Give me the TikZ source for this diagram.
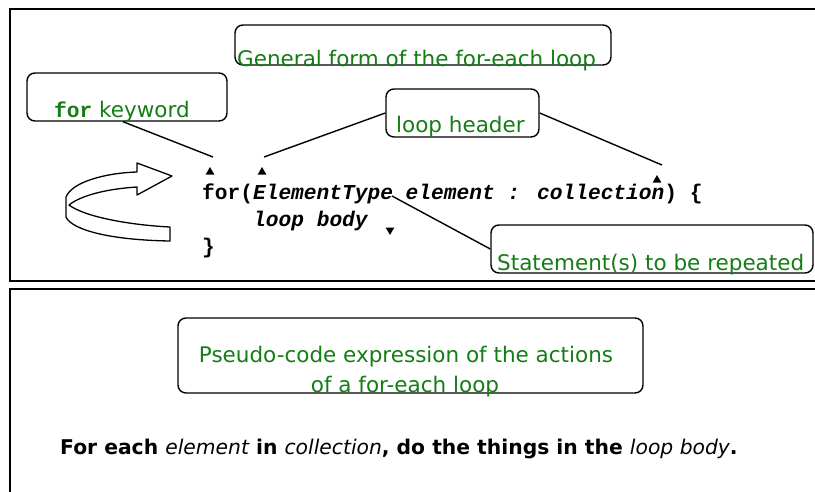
\documentclass[tikz,border=0pt]{standalone}
\usepackage{fontspec}
\setmainfont{DejaVu Sans}
\newfontfamily\codefont{Liberation Mono}
\usetikzlibrary{shapes.geometric,calc}
\definecolor{lblgreen}{RGB}{20,125,20}
\begin{document}
\begin{tikzpicture}[x=1pt,y=-1pt,
  frame/.style={draw=black,line width=2pt},
  gbox/.style={draw=black,line width=1.4pt,rounded corners=8pt,inner sep=0pt},
  lbl/.style={text=lblgreen,font=\fontsize{21.5}{26}\selectfont,inner sep=0pt,anchor=base west},
  code/.style={font=\codefont\fontsize{21.2}{27}\selectfont\bfseries,inner sep=0pt,anchor=base west},
  tri/.style={regular polygon,regular polygon sides=3,fill=black,inner sep=0pt,minimum size=10pt},
  conn/.style={draw=black,line width=1.4pt},
  ribbon/.style={draw=black,line width=1.3pt,fill=white,line join=round}]
\useasboundingbox (0,0) rectangle (815,491);
\clip (0,0) rectangle (815,491);
% frames
\draw[frame] (830,9) -- (10,9) -- (10,281) -- (830,281);
\draw[frame] (830,289) -- (10,289) -- (10,510);
% boxes
\node[gbox,minimum width=376pt,minimum height=40pt] (genbox) at (423,45) {};
\node[gbox,minimum width=200pt,minimum height=48pt] (forbox) at (127,97) {};
\node[gbox,minimum width=153pt,minimum height=48pt] (hdrbox) at (462.5,113) {};
\node[gbox,minimum width=322pt,minimum height=48pt] (stmtbox) at (652,249) {};
\node[gbox,minimum width=465pt,minimum height=75pt] (psbox) at (410.5,355.5) {};
% box labels
\node[lbl] (gentxt) at (237,66) {General form of the for-each loop};
\node[lbl] (fortxt) at (54,117) {{\codefont\fontsize{21.2}{26}\selectfont\bfseries for} keyword};
\node[lbl] (hdrtxt) at (396,132) {loop header};
\node[lbl] (stmttxt) at (497,270) {Statement(s) to be repeated};
\node[lbl,anchor=base] (ps1) at (406,362) {Pseudo-code expression of the actions};
\node[lbl,anchor=base] (ps2) at (405,392) {of a for-each loop};
% code
\node[code] (code1) at (202,199) {for(\itshape ElementType element : collection\upshape) \{};
\node[code] (code2) at (253,226) {\itshape loop body};
\node[code] (code3) at (202,253) {\}};
% arrowheads
\node[tri] (t1) at (210,172) {};
\node[tri] (t2) at (262,172) {};
\node[tri] (t3) at (657,180) {};
\node[tri,shape border rotate=180] (t4) at (390,230) {};
% connector ends
\coordinate (c1) at (213,157);
\coordinate (c2) at (264,157);
\coordinate (c3) at (662,165);
\coordinate (c4) at (392,196);
\draw[conn] ($(forbox.south)+(-4,0)$) -- (c1);
\draw[conn] (hdrbox.west) -- (c2);
\draw[conn] (hdrbox.east) -- (c3);
\draw[conn] (stmtbox.west) -- (c4);
% ribbon arrow
\draw[ribbon] (170,227) .. controls (130,225) and (85,217) .. (69,205)
  .. controls (80,196) and (105,189) .. (137,187)
  -- (137,195) -- (172,176) -- (137,163) -- (137,172)
  .. controls (105,173) and (72,182) .. (66,197)
  -- (66,217)
  .. controls (72,230) and (110,240) .. (170,241) -- cycle;
% pseudo-code sentence
\node[inner sep=0pt,anchor=base west,font=\fontsize{20.3}{24}\selectfont\bfseries] (sentence) at (60,454)
  {For each {\mdseries\itshape element} in {\mdseries\itshape collection}, do the things in the {\mdseries\itshape loop body}.};
\end{tikzpicture}
\end{document}
